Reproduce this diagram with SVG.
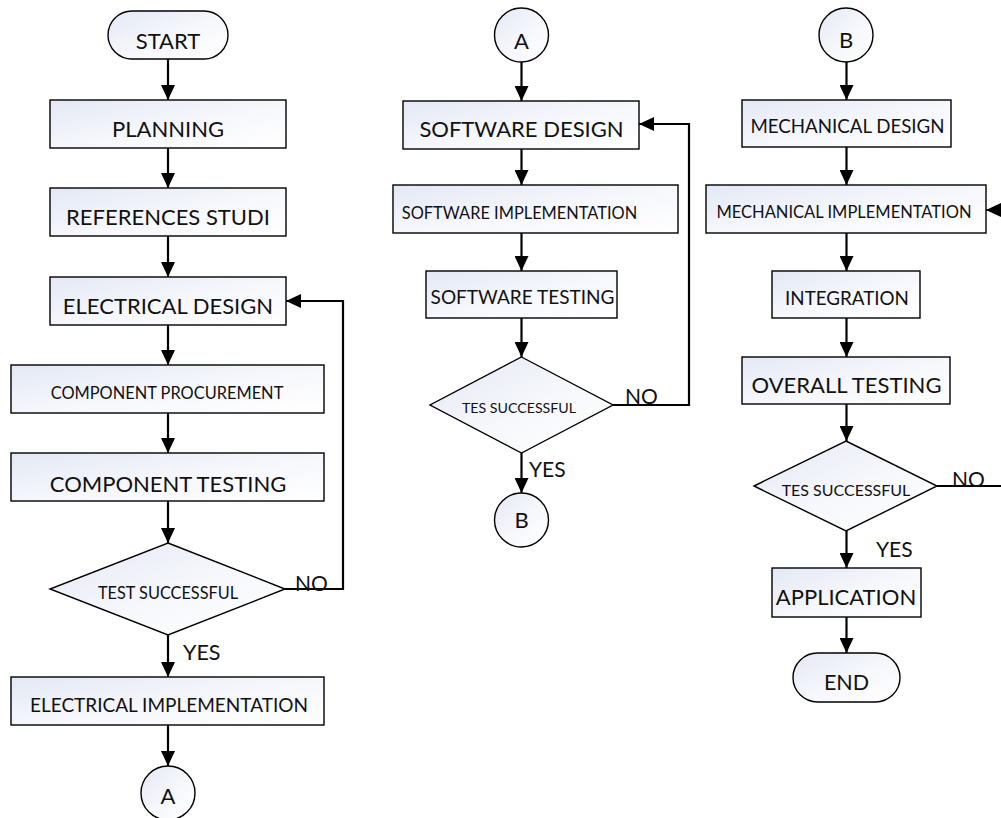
<svg xmlns="http://www.w3.org/2000/svg" width="1001" height="818" viewBox="0 0 1001 818">
<style>
.box{fill:url(#g);stroke:#000;stroke-width:1.4}
.ln{fill:none;stroke:#000;stroke-width:2.2;marker-end:url(#ah)}
text{font-family:Lato,"Liberation Sans",sans-serif;fill:#111;text-anchor:middle}
.lbl{text-anchor:start}
</style>
<defs>
<linearGradient id="g" x1="0" y1="0" x2="1" y2="1">
<stop offset="0" stop-color="#e3e8f4"/>
<stop offset="0.55" stop-color="#f7f8fc"/>
<stop offset="1" stop-color="#ffffff"/>
</linearGradient>
<marker id="ah" markerUnits="userSpaceOnUse" markerWidth="15" markerHeight="14" refX="15" refY="7" orient="auto">
<path d="M0,0 L15,7 L0,14 Z" fill="#000"/>
</marker>
</defs>

<g id="connectors">
<path class="ln" d="M168 59 V100"/>
<path class="ln" d="M168 148 V188"/>
<path class="ln" d="M168 236 V277"/>
<path class="ln" d="M168 325 V365"/>
<path class="ln" d="M168 413 V453"/>
<path class="ln" d="M168 501 V543"/>
<path class="ln" d="M168 635 V677"/>
<path class="ln" d="M168 725 V766"/>
<path class="ln" d="M285 589 H343 V301 H286"/>
<path class="ln" d="M521.5 62 V101"/>
<path class="ln" d="M521.5 149 V185"/>
<path class="ln" d="M521.5 233 V271"/>
<path class="ln" d="M521.5 318 V357"/>
<path class="ln" d="M521.5 453 V493"/>
<path class="ln" d="M613 405 H689 V124 H639"/>
<path class="ln" d="M846.5 62 V100"/>
<path class="ln" d="M846.5 147 V185"/>
<path class="ln" d="M846.5 233 V271"/>
<path class="ln" d="M846.5 318 V357"/>
<path class="ln" d="M846.5 404 V441"/>
<path class="ln" d="M846.5 531 V568"/>
<path class="ln" d="M846.5 617 V653"/>
<path class="ln" d="M937 486 H1030 V210 H986"/>
<text class="lbl" x="295" y="591" font-size="21">NO</text>
<text class="lbl" x="183" y="660" font-size="21.5">YES</text>
<text class="lbl" x="625" y="404" font-size="21">NO</text>
<text class="lbl" x="529" y="477" font-size="21">YES</text>
<text class="lbl" x="952" y="487" font-size="21">NO</text>
<text class="lbl" x="876" y="557" font-size="21">YES</text>
</g>

<g id="start"><rect class="box" x="108" y="11" width="120" height="48" rx="24"/><text x="168" y="49" font-size="22">START</text></g>
<g id="planning"><rect class="box" x="50" y="100" width="236" height="48"/><text x="168" y="137" font-size="22">PLANNING</text></g>
<g id="references"><rect class="box" x="50" y="188" width="236" height="48"/><text x="168" y="225" font-size="22">REFERENCES STUDI</text></g>
<g id="electrical-design"><rect class="box" x="50" y="277" width="236" height="48"/><text x="168" y="314" font-size="22">ELECTRICAL DESIGN</text></g>
<g id="component-procurement"><rect class="box" x="11" y="365" width="313" height="48"/><text x="167" y="399" font-size="16.4">COMPONENT PROCUREMENT</text></g>
<g id="component-testing"><rect class="box" x="11" y="453" width="313" height="48"/><text x="168" y="492" font-size="22">COMPONENT TESTING</text></g>
<g id="test1"><polygon class="box" points="168,543 285,589 168,635 50,589"/><text x="168" y="599" font-size="16.3">TEST SUCCESSFUL</text></g>
<g id="electrical-implementation"><rect class="box" x="11" y="677" width="313" height="48"/><text x="169" y="712" font-size="19">ELECTRICAL IMPLEMENTATION</text></g>
<g id="a-bottom"><circle class="box" cx="168" cy="793" r="27"/><text x="168" y="804" font-size="22">A</text></g>

<g id="a-top"><circle class="box" cx="521.5" cy="35" r="27"/><text x="521.5" y="49" font-size="22">A</text></g>
<g id="software-design"><rect class="box" x="403" y="101" width="236" height="48"/><text x="521.5" y="137" font-size="22">SOFTWARE DESIGN</text></g>
<g id="software-implementation"><rect class="box" x="393" y="185" width="285" height="48"/><text x="519.5" y="219" font-size="16.4">SOFTWARE IMPLEMENTATION</text></g>
<g id="software-testing"><rect class="box" x="426" y="271" width="191" height="47"/><text x="522.5" y="304" font-size="19">SOFTWARE TESTING</text></g>
<g id="test2"><polygon class="box" points="521.5,357 613,405 521.5,453 430,405"/><text x="519" y="413" font-size="14.2">TES SUCCESSFUL</text></g>
<g id="b-mid"><circle class="box" cx="521.5" cy="520" r="27"/><text x="521.5" y="528" font-size="22">B</text></g>

<g id="b-top"><circle class="box" cx="846" cy="35" r="27"/><text x="846" y="48" font-size="22">B</text></g>
<g id="mechanical-design"><rect class="box" x="742" y="100" width="209" height="47"/><text x="847.5" y="133" font-size="18.7">MECHANICAL DESIGN</text></g>
<g id="mechanical-implementation"><rect class="box" x="706" y="185" width="280" height="48"/><text x="844" y="218" font-size="16.5">MECHANICAL IMPLEMENTATION</text></g>
<g id="integration"><rect class="box" x="772" y="271" width="148" height="47"/><text x="847" y="305" font-size="18.8">INTEGRATION</text></g>
<g id="overall-testing"><rect class="box" x="742" y="357" width="208" height="47"/><text x="846.5" y="393" font-size="22">OVERALL TESTING</text></g>
<g id="test3"><polygon class="box" points="846,441 937,486 846,531 754,486"/><text x="846" y="496" font-size="16">TES SUCCESSFUL</text></g>
<g id="application"><rect class="box" x="772" y="568" width="149" height="49"/><text x="846" y="605" font-size="22">APPLICATION</text></g>
<g id="end"><rect class="box" x="793" y="653" width="107" height="49" rx="24.5"/><text x="846.5" y="690" font-size="21.5">END</text></g>
</svg>
